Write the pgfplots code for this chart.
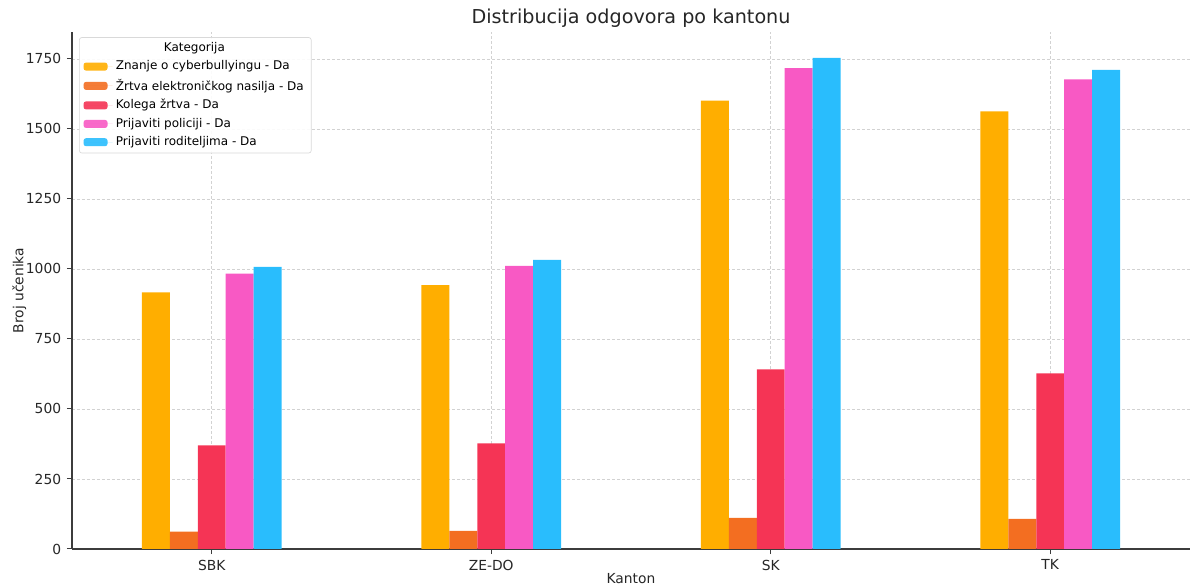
\documentclass[border=0pt]{standalone}
\usepackage{pgfplots}
\pgfplotsset{compat=1.18}
\usepackage{fontspec}
\setmainfont{DejaVu Sans}
\definecolor{cYel}{RGB}{255,174,0}
\definecolor{cOra}{RGB}{243,110,33}
\definecolor{cRed}{RGB}{245,52,85}
\definecolor{cPin}{RGB}{248,89,196}
\definecolor{cBlu}{RGB}{41,189,253}
\definecolor{spine}{RGB}{60,60,60}
\begin{document}
\begin{tikzpicture}
\begin{axis}[
  scale only axis,
  width=670.8pt, height=310.2pt,
  ybar=0pt, bar width=0.1,
  xmin=-0.5, xmax=3.5,
  ymin=0, ymax=1846,
  xtick={0,1,2,3},
  xticklabels={SBK,ZE-DO,SK,TK},
  ytick={0,250,500,750,1000,1250,1500,1750},
  /pgf/number format/1000 sep={},
  /pgf/number format/assume math mode=true,
  tick label style={font=\fontsize{8.3}{10}\selectfont, text=black!85},
  label style={font=\fontsize{8.3}{10}\selectfont, text=black!85},
  title style={font=\fontsize{11.5}{13}\selectfont, text=black!85, yshift=-7pt},
  title={Distribucija odgovora po kantonu},
  xlabel={Kanton}, ylabel={Broj učenika},
  xlabel style={yshift=5pt},
  ylabel style={yshift=-7pt},
  axis x line*=bottom, axis y line*=left,
  axis line style={spine, line width=0.7pt, -},
  tick align=outside, major tick length=3pt,
  tick style={spine, line width=0.6pt},
  xmajorgrids, ymajorgrids,
  major grid style={dash pattern=on 2pt off 1pt, gray!35, line width=0.4pt},
  legend style={at={(0.0063,0.990)}, anchor=north west,
    font=\fontsize{7.2}{8}\selectfont, draw=gray!30, rounded corners=1.5pt,
    fill=white, fill opacity=0.9, text opacity=1,
    inner xsep=2.5pt, inner ysep=1.5pt, row sep=1pt,
    nodes={inner ysep=1.5pt}},
  legend cell align=left,
  legend image code/.code={\draw[#1, draw=none] (0pt,-2.4pt) rectangle (14.4pt,2.4pt);
     \path (0pt,0pt) -- (17.4pt,0pt);},
]
\addlegendimage{empty legend}
\addlegendentry{\hspace*{28.8pt}Kategorija}
\addplot[fill=cYel, draw=none] coordinates {(0,916) (1,942) (2,1601) (3,1563)};
\addlegendentry{Znanje o cyberbullyingu - Da}
\addplot[fill=cOra, draw=none] coordinates {(0,62) (1,65) (2,111) (3,108)};
\addlegendentry{Žrtva elektroničkog nasilja - Da}
\addplot[fill=cRed, draw=none] coordinates {(0,370) (1,377) (2,641) (3,627)};
\addlegendentry{Kolega žrtva - Da}
\addplot[fill=cPin, draw=none] coordinates {(0,983) (1,1011) (2,1717) (3,1677)};
\addlegendentry{Prijaviti policiji - Da}
\addplot[fill=cBlu, draw=none] coordinates {(0,1007) (1,1032) (2,1754) (3,1711)};
\addlegendentry{Prijaviti roditeljima - Da}
\end{axis}
\pgfresetboundingbox
\path ([xshift=-43.2pt,yshift=-23.4pt]current axis.south west) rectangle ([yshift=19.2pt]current axis.north east);
\end{tikzpicture}
\end{document}
